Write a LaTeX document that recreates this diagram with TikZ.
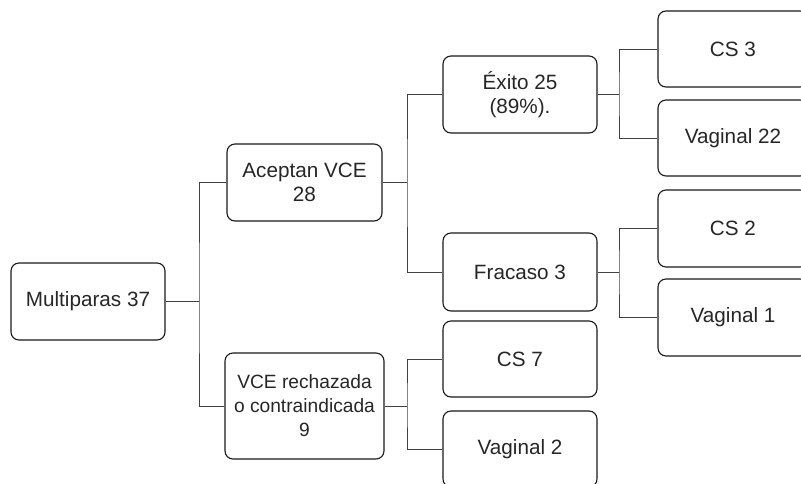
\documentclass[tikz,border=0pt]{standalone}
\usepackage{fontspec}
\setmainfont{Liberation Sans}
\begin{document}
\begin{tikzpicture}[x=1pt,y=-1pt,
  box/.style={draw=black!90, line width=1.1pt, rounded corners=8pt, align=center,
    inner sep=0pt, text=black!85, font=\fontsize{20.7}{24.5}\selectfont},
  link/.style={draw=black!75, line width=1pt}]
\useasboundingbox (0,0) rectangle (801,483);
\clip (0,0) rectangle (801,483);
% level 0
\node[box, minimum width=154pt, minimum height=77pt] (m) at (88,301.5) {Multiparas 37};
% level 1
\node[box, minimum width=155pt, minimum height=77pt] (a) at (304.5,182.5) {Aceptan VCE\\28};
\node[box, minimum width=159pt, minimum height=106pt, font=\fontsize{19.2}{24}\selectfont] (r) at (304.5,406) {VCE rechazada\\o contraindicada\\9};
% level 2
\node[box, minimum width=154pt, minimum height=77pt] (e) at (520,94.5) {Éxito 25\\(89\%).};
\node[box, minimum width=154pt, minimum height=78pt] (f) at (520,272) {Fracaso 3};
\node[box, minimum width=154pt, minimum height=76pt] (c7) at (520,359) {CS 7};
\node[box, minimum width=154pt, minimum height=76pt] (v2) at (520,449) {Vaginal 2};
% level 3
\node[box, minimum width=150pt, minimum height=76pt] (c3) at (733,49) {CS 3};
\node[box, minimum width=150pt, minimum height=76pt] (v22) at (733,138) {Vaginal 22};
\node[box, minimum width=150pt, minimum height=77pt] (c2) at (733,228.5) {CS 2};
\node[box, minimum width=150pt, minimum height=77pt] (v1) at (733,317.5) {Vaginal 1};
% junctions
\coordinate (j1) at (199,301.5);
\coordinate (j2) at (407,182.5);
\coordinate (j3) at (407,406);
\coordinate (j4) at (619,94.5);
\coordinate (j5) at (619,272);
% connectors
\draw[link] (m.east) -- (j1);
\draw[link] (a.west) -| (j1) |- (r.west);
\draw[link] (a.east) -- (j2);
\draw[link] (e.west) -| (j2) |- (f.west);
\draw[link] (r.east) -- (j3);
\draw[link] (c7.west) -| (j3) |- (v2.west);
\draw[link] (e.east) -- (j4);
\draw[link] (c3.west) -| (j4) |- (v22.west);
\draw[link] (f.east) -- (j5);
\draw[link] (c2.west) -| (j5) |- (v1.west);
\end{tikzpicture}
\end{document}
